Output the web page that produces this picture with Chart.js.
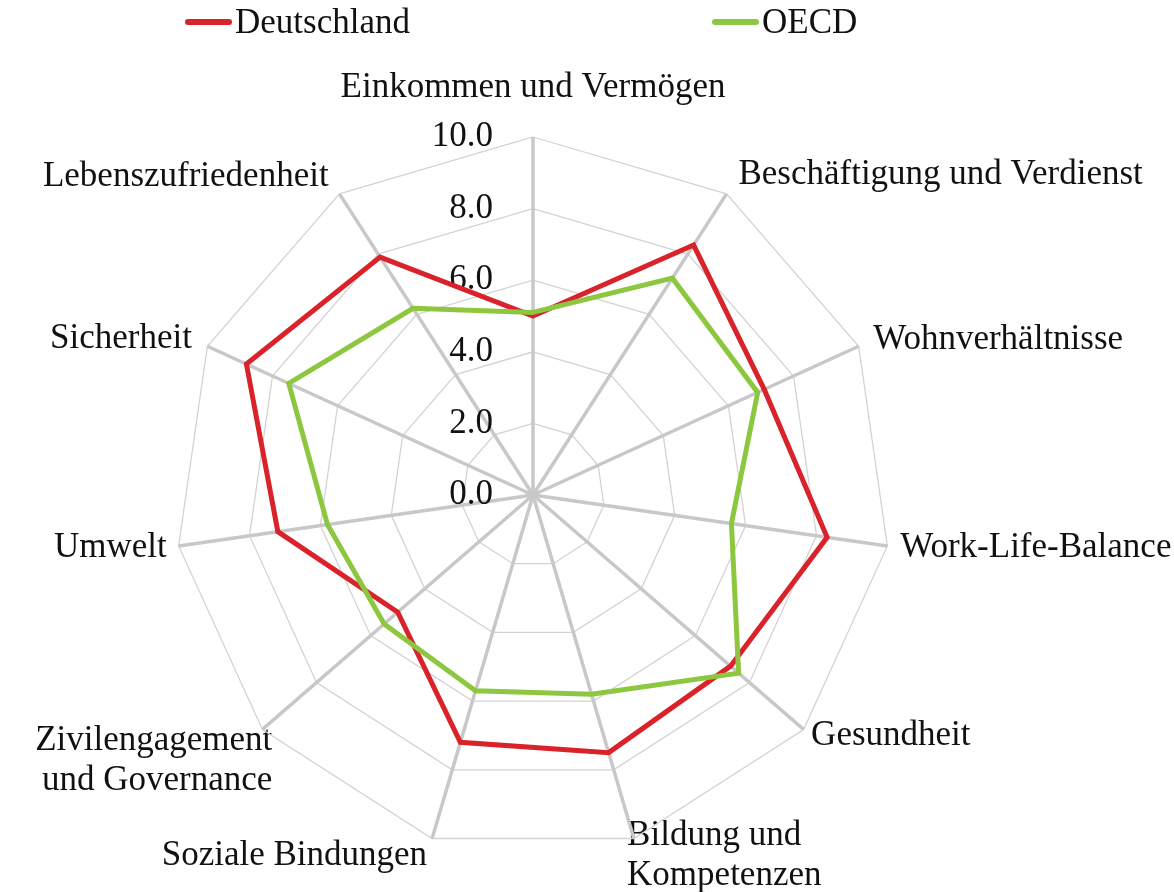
<!DOCTYPE html>
<html lang="de">
<head>
<meta charset="utf-8">
<title>Lebensqualität – Deutschland und OECD</title>
<script src="https://cdn.jsdelivr.net/npm/chart.js@4.4.1/dist/chart.umd.min.js"></script>
<style>
  html, body { margin: 0; padding: 0; background: #fff; }
  #wrap { position: relative; width: 1174px; height: 892px; }
  #legend { position: absolute; top: 0; left: 0; font-family: "Liberation Serif", serif; font-size: 35px; color: #111; }
  .item { position: absolute; top: 0; height: 44px; display: flex; align-items: center; white-space: nowrap; }
  .swatch { width: 47px; height: 6px; border-radius: 3px; margin-right: 3px; }
</style>
</head>
<body>
<div id="wrap">
  <canvas id="bli-chart" width="1174" height="892"></canvas>
  <div id="legend"></div>
</div>
<script>
// Dimensionen (Achsen des Netzdiagramms), im Uhrzeigersinn ab oben
const categories = [
  'Einkommen und Vermögen',
  'Beschäftigung und Verdienst',
  'Wohnverhältnisse',
  'Work-Life-Balance',
  'Gesundheit',
  ['Bildung und', 'Kompetenzen'],
  'Soziale Bindungen',
  ['Zivilengagement', 'und Governance'],
  'Umwelt',
  'Sicherheit',
  'Lebenszufriedenheit'
];

// Werte (0–10)
const deutschlandValues = [5.0, 8.3, 7.1, 8.3, 7.3, 7.5, 7.2, 5.0, 7.2, 8.8, 7.9];
const oecdValues        = [5.1, 7.2, 6.9, 5.6, 7.6, 5.8, 5.7, 5.5, 5.8, 7.5, 6.2];

const seriesNames  = ['Deutschland', 'OECD'];
const seriesColors = ['#d9222a', '#8dc63f'];

// Skala
const tickValues = [0, 2, 4, 6, 8, 10];
const tickLabels = ['0.0', '2.0', '4.0', '6.0', '8.0', '10.0'];

// Abstand der Achsenbeschriftungen vom äußeren Ring (px), je Achse
const labelPadding = [49, 22, 16, 13, 10, -24, 18, -13, 12, 17, 20];

const serifFont = '"Liberation Serif", "Times New Roman", serif';

// Legende als HTML (weit auseinander wie in der Vorlage)
const legendLeft = [185, 712];
const legendEl = document.getElementById('legend');
seriesNames.forEach((name, i) => {
  const item = document.createElement('div');
  item.className = 'item';
  item.style.left = legendLeft[i] + 'px';
  const swatch = document.createElement('span');
  swatch.className = 'swatch';
  swatch.style.background = seriesColors[i];
  item.appendChild(swatch);
  item.appendChild(document.createTextNode(name));
  legendEl.appendChild(item);
});

// Beschriftung der Ringe links neben der senkrechten Achse (inkl. 0.0)
const tickLabelPlugin = {
  id: 'tickLabelPlugin',
  beforeDatasetsDraw(chart) {
    const scale = chart.scales.r;
    const ctx = chart.ctx;
    ctx.save();
    ctx.font = '35px ' + serifFont;
    ctx.fillStyle = '#111';
    ctx.textAlign = 'right';
    ctx.textBaseline = 'middle';
    tickValues.forEach((v, i) => {
      const y = scale.yCenter - scale.getDistanceFromCenterForValue(v);
      ctx.fillText(tickLabels[i], scale.xCenter - 40, y);
    });
    ctx.restore();
  }
};

const chartCanvas = document.getElementById('bli-chart');

new Chart(chartCanvas, {
  type: 'radar',
  data: {
    labels: categories,
    datasets: [
      {
        label: seriesNames[0],
        data: deutschlandValues,
        borderColor: seriesColors[0],
        backgroundColor: seriesColors[0],
        borderWidth: 5,
        fill: false,
        pointRadius: 0,
        borderJoinStyle: 'miter',
        order: 1
      },
      {
        label: seriesNames[1],
        data: oecdValues,
        borderColor: seriesColors[1],
        backgroundColor: seriesColors[1],
        borderWidth: 5,
        fill: false,
        pointRadius: 0,
        borderJoinStyle: 'miter',
        order: 0 // grüne Linie liegt oben
      }
    ]
  },
  options: {
    responsive: false,
    devicePixelRatio: 1,
    animation: false,
    events: [],
    layout: {
      padding: { left: 175, right: 283, top: 137, bottom: 39 }
    },
    elements: {
      line: { tension: 0 }
    },
    plugins: {
      legend: { display: false },
      tooltip: { enabled: false }
    },
    scales: {
      r: {
        min: 0,
        max: 10,
        ticks: { stepSize: 2, display: false },
        grid: { color: '#d3d3d3', lineWidth: 1.3 },
        angleLines: { color: '#c8c8c8', lineWidth: 3.5 },
        pointLabels: {
          color: '#111',
          padding: (ctx) => labelPadding[ctx.index],
          // einzeilige Beschriftungen mittig am Ankerpunkt
          font: (ctx) => ({
            family: serifFont,
            size: 35,
            lineHeight: Array.isArray(categories[ctx.index]) ? 1.15 : 0.01
          })
        },
        // Netz so groß wie die Zeichenfläche halten, Beschriftungen dürfen außerhalb liegen
        afterFit: (scale) => {
          const box = { left: scale.left, right: scale.right, top: scale.top, bottom: scale.bottom };
          scale.setDimensions();
          Object.assign(scale, { left: -1e4, right: 1e4, top: -1e4, bottom: 1e4 });
          scale.fit();
          Object.assign(scale, box);
        }
      }
    }
  },
  plugins: [tickLabelPlugin]
});
</script>
</body>
</html>
